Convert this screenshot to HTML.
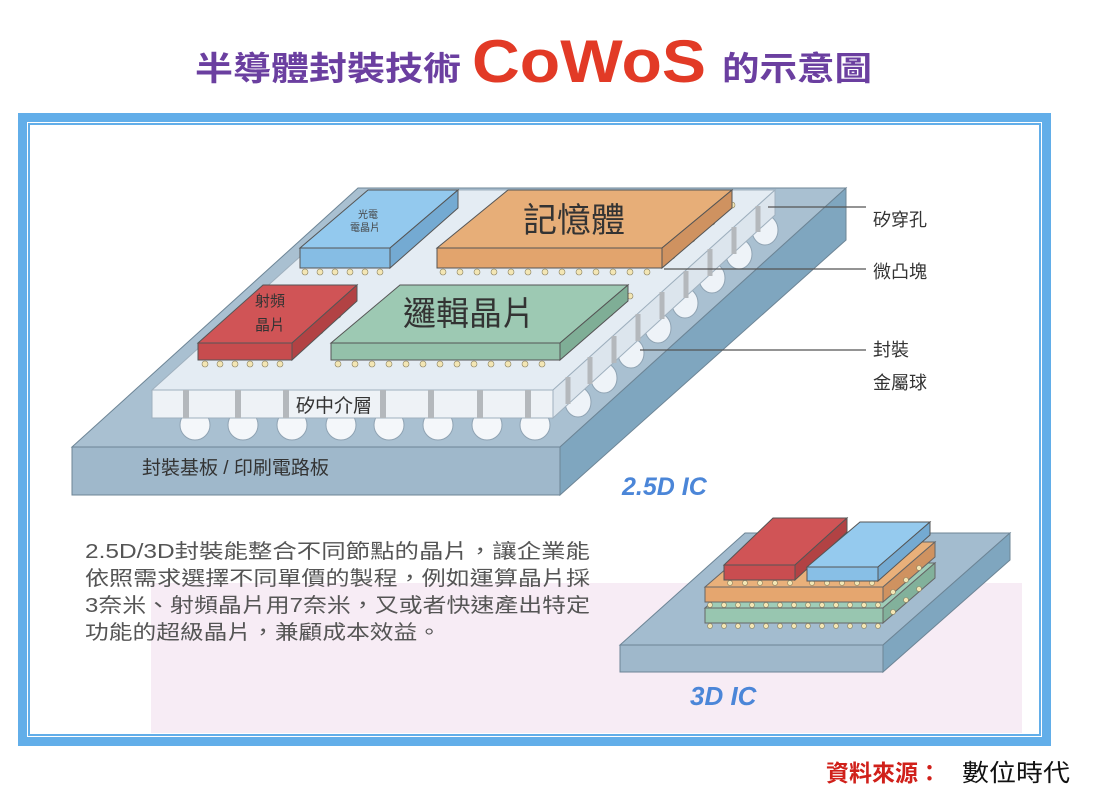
<!DOCTYPE html>
<html><head><meta charset="utf-8"><style>
html,body{margin:0;padding:0;background:#fff;width:1094px;height:799px;overflow:hidden}
svg{display:block}
.cjk{font-family:"Liberation Sans","Noto Sans CJK TC",sans-serif}
</style></head><body>
<svg width="1094" height="799" viewBox="0 0 1094 799" xmlns="http://www.w3.org/2000/svg" class="cjk">
<!-- Title -->
<text x="195" y="80" font-size="33" font-weight="bold" fill="#6b3fa0" textLength="266" lengthAdjust="spacingAndGlyphs">半導體封裝技術</text>
<text x="472" y="82" font-size="60" font-weight="bold" fill="#e23a26" textLength="234" lengthAdjust="spacingAndGlyphs">CoWoS</text>
<text x="722" y="80" font-size="33" font-weight="bold" fill="#6b3fa0" textLength="150" lengthAdjust="spacingAndGlyphs">的示意圖</text>

<!-- Frame -->
<rect x="22.5" y="117.5" width="1024" height="624" fill="none" stroke="#62aee9" stroke-width="9"/>
<rect x="29" y="124" width="1011" height="611" fill="none" stroke="#62aee9" stroke-width="2"/>
<rect x="151" y="583" width="871" height="150" fill="#f7ecf5"/>

<!-- ===== 2.5D main structure ===== -->
<g stroke="#6d8596" stroke-width="1">
<polygon points="72,447 560,447 846,188 358,188" fill="#a9c0d1"/>
<polygon points="72,447 560,447 560,495 72,495" fill="#9fb8cb"/>
<polygon points="560,447 846,188 846,240 560,495" fill="#7fa6bf"/>
</g>
<g fill="#eef3f8" stroke="#8fa3b3" stroke-width="1">
<ellipse cx="578" cy="402" rx="13" ry="15"/>
<ellipse cx="604" cy="378" rx="13" ry="15"/>
<ellipse cx="631" cy="353" rx="13" ry="15"/>
<ellipse cx="658" cy="328" rx="13" ry="15"/>
<ellipse cx="685" cy="303" rx="13" ry="15"/>
<ellipse cx="712" cy="278" rx="13" ry="15"/>
<ellipse cx="739" cy="254" rx="13" ry="15"/>
<ellipse cx="765" cy="230" rx="13" ry="15"/>
</g>
<g fill="#f4f7fa" stroke="#8fa3b3" stroke-width="1">
<ellipse cx="195" cy="425" rx="15" ry="15"/>
<ellipse cx="243" cy="425" rx="15" ry="15"/>
<ellipse cx="292" cy="425" rx="15" ry="15"/>
<ellipse cx="341" cy="425" rx="15" ry="15"/>
<ellipse cx="389" cy="425" rx="15" ry="15"/>
<ellipse cx="438" cy="425" rx="15" ry="15"/>
<ellipse cx="487" cy="425" rx="15" ry="15"/>
<ellipse cx="535" cy="425" rx="15" ry="15"/>
</g>
<g stroke="#9fb0be" stroke-width="1">
<polygon points="152,390 553,390 775,190 374,190" fill="#e4ecf3"/>
<polygon points="152,390 553,390 553,418 152,418" fill="#eef2f6"/>
<polygon points="553,390 775,190 775,215 553,418" fill="#dce5ed"/>
</g>
<g fill="#b4b8bc">
<rect x="183" y="390" width="6" height="28"/><rect x="235" y="390" width="6" height="28"/>
<rect x="283" y="390" width="6" height="28"/><rect x="380" y="390" width="6" height="28"/>
<rect x="428" y="390" width="6" height="28"/><rect x="477" y="390" width="6" height="28"/>
<rect x="525" y="390" width="6" height="28"/>
</g>
<g stroke="#b4b8bc" stroke-width="5">
<line x1="568" y1="377" x2="568" y2="404"/><line x1="590" y1="357" x2="590" y2="384"/>
<line x1="614" y1="336" x2="614" y2="363"/><line x1="638" y1="314" x2="638" y2="341"/>
<line x1="662" y1="292" x2="662" y2="319"/><line x1="686" y1="271" x2="686" y2="298"/>
<line x1="710" y1="249" x2="710" y2="276"/><line x1="734" y1="227" x2="734" y2="254"/>
<line x1="758" y1="206" x2="758" y2="232"/>
</g>
<text x="296" y="412" font-size="19" fill="#333">矽中介層</text>
<text x="142" y="474" font-size="19" fill="#333">封裝基板 / 印刷電路板</text>
<text x="622" y="495" font-size="25" font-weight="bold" font-style="italic" fill="#4b86d8">2.5D IC</text>

<g fill="#f3e6b4" stroke="#8a8060" stroke-width="0.6">
<circle cx="305" cy="272" r="3"/><circle cx="320" cy="272" r="3"/><circle cx="335" cy="272" r="3"/><circle cx="350" cy="272" r="3"/><circle cx="365" cy="272" r="3"/><circle cx="380" cy="272" r="3"/>
<circle cx="443" cy="272" r="3"/><circle cx="460" cy="272" r="3"/><circle cx="477" cy="272" r="3"/><circle cx="494" cy="272" r="3"/><circle cx="511" cy="272" r="3"/><circle cx="528" cy="272" r="3"/><circle cx="545" cy="272" r="3"/><circle cx="562" cy="272" r="3"/><circle cx="579" cy="272" r="3"/><circle cx="596" cy="272" r="3"/><circle cx="613" cy="272" r="3"/><circle cx="630" cy="272" r="3"/><circle cx="647" cy="272" r="3"/>
<circle cx="205" cy="364" r="3"/><circle cx="220" cy="364" r="3"/><circle cx="235" cy="364" r="3"/><circle cx="250" cy="364" r="3"/><circle cx="265" cy="364" r="3"/><circle cx="280" cy="364" r="3"/>
<circle cx="338" cy="364" r="3"/><circle cx="355" cy="364" r="3"/><circle cx="372" cy="364" r="3"/><circle cx="389" cy="364" r="3"/><circle cx="406" cy="364" r="3"/><circle cx="423" cy="364" r="3"/><circle cx="440" cy="364" r="3"/><circle cx="457" cy="364" r="3"/><circle cx="474" cy="364" r="3"/><circle cx="491" cy="364" r="3"/><circle cx="508" cy="364" r="3"/><circle cx="525" cy="364" r="3"/><circle cx="542" cy="364" r="3"/>
<circle cx="402" cy="252" r="3"/><circle cx="420" cy="236" r="3"/><circle cx="438" cy="221" r="3"/><circle cx="672" cy="256" r="3"/><circle cx="692" cy="239" r="3"/><circle cx="712" cy="222" r="3"/><circle cx="732" cy="205" r="3"/>
<circle cx="302" cy="347" r="3"/><circle cx="320" cy="331" r="3"/><circle cx="338" cy="315" r="3"/><circle cx="570" cy="347" r="3"/><circle cx="590" cy="330" r="3"/><circle cx="610" cy="313" r="3"/><circle cx="630" cy="296" r="3"/>
</g>
<g stroke="#555" stroke-width="1">
<polygon points="300,248 390,248 458,190 368,190" fill="#93c9ee"/>
<polygon points="300,248 390,248 390,268 300,268" fill="#86bde4"/>
<polygon points="390,248 458,190 458,208 390,268" fill="#74aad2"/>
<polygon points="437,248 662,248 732,190 508,190" fill="#e7ae78"/>
<polygon points="437,248 662,248 662,268 437,268" fill="#e2a46d"/>
<polygon points="662,248 732,190 732,208 662,268" fill="#cf9260"/>
<polygon points="198,343 292,343 357,285 263,285" fill="#d05456"/>
<polygon points="198,343 292,343 292,360 198,360" fill="#c74c4e"/>
<polygon points="292,343 357,285 357,301 292,360" fill="#b24244"/>
<polygon points="331,343 560,343 628,285 400,285" fill="#9dc9b3"/>
<polygon points="331,343 560,343 560,360 331,360" fill="#94c1aa"/>
<polygon points="560,343 628,285 628,301 560,360" fill="#7fae96"/>
</g>
<text x="358" y="218" font-size="10" fill="#444">光電</text>
<text x="350" y="231" font-size="10" fill="#444">電晶片</text>
<text x="523" y="232" font-size="34" fill="#333">記憶體</text>
<text x="255" y="306" font-size="15" fill="#333">射頻</text>
<text x="255" y="330" font-size="15" fill="#333">晶片</text>
<text x="403" y="325" font-size="33" fill="#333">邏輯晶片</text>

<g stroke="#555" stroke-width="1.3">
<line x1="768" y1="207" x2="866" y2="207"/>
<line x1="664" y1="269" x2="866" y2="269"/>
<line x1="640" y1="350" x2="866" y2="350"/>
</g>
<g font-size="18" fill="#333">
<text x="873" y="226">矽穿孔</text>
<text x="873" y="278">微凸塊</text>
<text x="873" y="356">封裝</text>
<text x="873" y="389">金屬球</text>
</g>

<g font-size="20" fill="#555">
<text x="85" y="558" textLength="505" lengthAdjust="spacingAndGlyphs">2.5D/3D封裝能整合不同節點的晶片，讓企業能</text>
<text x="85" y="585" textLength="505" lengthAdjust="spacingAndGlyphs">依照需求選擇不同單價的製程，例如運算晶片採</text>
<text x="85" y="612" textLength="505" lengthAdjust="spacingAndGlyphs">3奈米、射頻晶片用7奈米，又或者快速產出特定</text>
<text x="85" y="639" textLength="356" lengthAdjust="spacingAndGlyphs">功能的超級晶片，兼顧成本效益。</text>
</g>

<!-- 3D IC -->
<g stroke="#6d8596" stroke-width="1">
<polygon points="620,645 883,645 1010,533 745,533" fill="#a3bccf"/>
<polygon points="620,645 883,645 883,672 620,672" fill="#9fb8cb"/>
<polygon points="883,645 1010,533 1010,560 883,672" fill="#7fa6bf"/>
</g>
<g stroke="#666" stroke-width="1">
<polygon points="705,608 883,608 935,563 757,563" fill="#9fcdb8"/>
<polygon points="705,608 883,608 883,623 705,623" fill="#98c6b0"/>
<polygon points="883,608 935,563 935,578 883,623" fill="#82b19b"/>
<polygon points="705,587 883,587 935,542 757,542" fill="#e9b07a"/>
<polygon points="705,587 883,587 883,602 705,602" fill="#e5a66f"/>
<polygon points="883,587 935,542 935,557 883,602" fill="#cf9260"/>
</g>
<g fill="#f3e6b4" stroke="#8a8060" stroke-width="0.6">
<circle cx="710" cy="605" r="2.5"/><circle cx="724" cy="605" r="2.5"/><circle cx="738" cy="605" r="2.5"/><circle cx="752" cy="605" r="2.5"/><circle cx="766" cy="605" r="2.5"/><circle cx="780" cy="605" r="2.5"/><circle cx="794" cy="605" r="2.5"/><circle cx="808" cy="605" r="2.5"/><circle cx="822" cy="605" r="2.5"/><circle cx="836" cy="605" r="2.5"/><circle cx="850" cy="605" r="2.5"/><circle cx="864" cy="605" r="2.5"/><circle cx="878" cy="605" r="2.5"/>
<circle cx="710" cy="626" r="2.5"/><circle cx="724" cy="626" r="2.5"/><circle cx="738" cy="626" r="2.5"/><circle cx="752" cy="626" r="2.5"/><circle cx="766" cy="626" r="2.5"/><circle cx="780" cy="626" r="2.5"/><circle cx="794" cy="626" r="2.5"/><circle cx="808" cy="626" r="2.5"/><circle cx="822" cy="626" r="2.5"/><circle cx="836" cy="626" r="2.5"/><circle cx="850" cy="626" r="2.5"/><circle cx="864" cy="626" r="2.5"/><circle cx="878" cy="626" r="2.5"/>
<circle cx="730" cy="583" r="2.5"/><circle cx="745" cy="583" r="2.5"/><circle cx="760" cy="583" r="2.5"/><circle cx="775" cy="583" r="2.5"/><circle cx="790" cy="583" r="2.5"/><circle cx="812" cy="583" r="2.5"/><circle cx="827" cy="583" r="2.5"/><circle cx="842" cy="583" r="2.5"/><circle cx="857" cy="583" r="2.5"/><circle cx="872" cy="583" r="2.5"/>
<circle cx="893" cy="612" r="2.5"/><circle cx="906" cy="600" r="2.5"/><circle cx="919" cy="589" r="2.5"/><circle cx="893" cy="592" r="2.5"/><circle cx="906" cy="580" r="2.5"/><circle cx="919" cy="568" r="2.5"/>
</g>
<g stroke="#555" stroke-width="1">
<polygon points="724,565 795,565 847,518 773,518" fill="#d05456"/>
<polygon points="724,565 795,565 795,580 724,580" fill="#c94d50"/>
<polygon points="795,565 847,518 847,532 795,580" fill="#b24244"/>
<polygon points="807,567 878,567 930,522 860,522" fill="#95caee"/>
<polygon points="807,567 878,567 878,581 807,581" fill="#88bfe6"/>
<polygon points="878,567 930,522 930,535 878,581" fill="#74aad2"/>
</g>
<text x="690" y="705" font-size="26" font-weight="bold" font-style="italic" fill="#4b86d8">3D IC</text>

<text x="826" y="781" font-size="23" font-weight="bold" fill="#d0201a">資料來源：</text>
<text x="962" y="781" font-size="24" fill="#111" textLength="108" lengthAdjust="spacingAndGlyphs">數位時代</text>
</svg>
</body></html>
